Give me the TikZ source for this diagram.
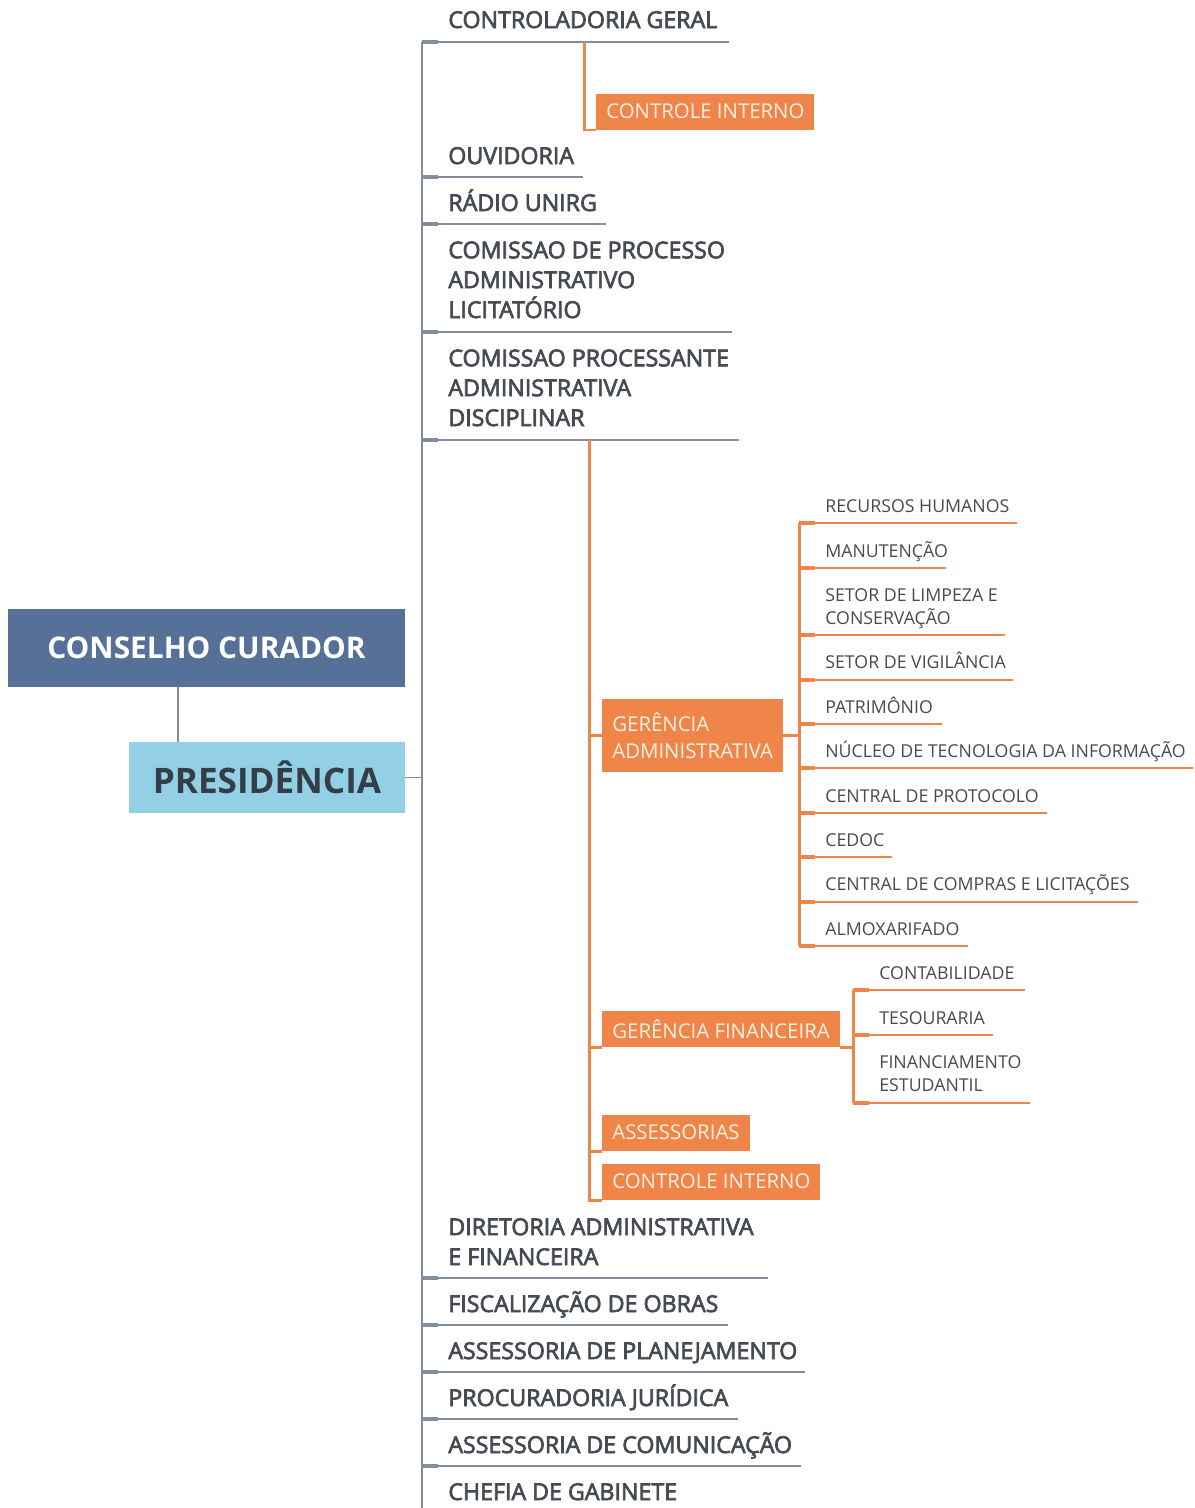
\documentclass[tikz,border=0pt]{standalone}
\usepackage{fontspec}
\setmainfont{Open Sans}
\newfontfamily\semifont{Open Sans}[FakeBold=3]
\newfontfamily\boldfont{Open Sans Bold}
\usetikzlibrary{positioning}
\definecolor{linha}{RGB}{131,141,160}
\definecolor{cinza}{RGB}{70,74,82}
\definecolor{laranja}{RGB}{239,133,72}
\definecolor{creme}{RGB}{255,241,228}
\definecolor{azulescuro}{RGB}{87,112,152}
\definecolor{azulclaro}{RGB}{147,208,229}
\definecolor{textopres}{RGB}{52,62,72}

\tikzset{
  gline/.style={linha, line width=1.1pt},
  gstub/.style={linha, line width=2.2pt},
  oline/.style={laranja, line width=1.7pt},
  othin/.style={laranja, line width=1.1pt},
  ostub/.style={laranja, line width=2.4pt},
  gtext/.style={anchor=base west, inner sep=0, align=left, text=cinza,
    font=\semifont\fontsize{13.2}{17}\selectfont},
  otext/.style={anchor=base west, inner sep=0, align=left, text=cinza,
    font=\fontsize{10.1}{13}\selectfont},
  obox/.style={fill=laranja, text=creme, align=left, inner xsep=0.2cm,
    minimum height=0.72cm, font=\fontsize{11.6}{15.3}\selectfont},
}

\begin{document}
\begin{tikzpicture}[x=0.02cm, y=-0.02cm]
\useasboundingbox (0,0) rectangle (1195,1508);

% caixas da esquerda
\node[fill=azulescuro, text=white, minimum width=7.94cm, minimum height=1.56cm,
  font=\boldfont\fontsize{17}{20}\selectfont] (conselho) at (206.5,648) {CONSELHO CURADOR};
\node[fill=azulclaro, text=textopres, minimum width=5.52cm, minimum height=1.42cm,
  font=\boldfont\fontsize{20}{24}\selectfont] (presid) at (267,777.5) {PRESIDÊNCIA};
\draw[gline] (conselho.south -| 178,0) -- (presid.north -| 178,0);

% tronco principal
\coordinate (tronco-top) at (422,42);
\coordinate (tronco-bot) at (422,1508);
\draw[gline] (tronco-top) -- (tronco-bot);
\draw[gline] (presid.east) -- (presid.east -| tronco-top);

% (\by = linha de base da ultima linha do texto)
\foreach \nome/\by/\ly/\ex/\txt in {
    cg/28/42/729/{CONTROLADORIA GERAL},
    ouv/164/177/583/{OUVIDORIA},
    rad/211/224/606/{RÁDIO UNIRG},
    cpa/318/332/732/{COMISSAO DE PROCESSO\\ADMINISTRATIVO\\LICITATÓRIO},
    cpd/426/440/739/{COMISSAO PROCESSANTE\\ADMINISTRATIVA\\DISCIPLINAR},
    dir/1265/1278/768/{DIRETORIA ADMINISTRATIVA\\E FINANCEIRA},
    fis/1312/1325/728/{FISCALIZAÇÃO DE OBRAS},
    pla/1359/1372/805/{ASSESSORIA DE PLANEJAMENTO},
    pro/1406/1419/738/{PROCURADORIA JURÍDICA},
    com/1453/1466/801/{ASSESSORIA DE COMUNICAÇÃO},
    che/1500/1513/676/{CHEFIA DE GABINETE}}{
  \node[gtext] (\nome) at (448,\by) {\txt};
  \coordinate (\nome-a) at (422,\ly);
  \coordinate (\nome-b) at (\ex,\ly);
  \draw[gline] (\nome-a) -- (\nome-b);
  \draw[gstub] (\nome-a) -- ++(16,0);
}

% controle interno da controladoria
\coordinate (cg-o) at (584,42);
\node[obox, anchor=south west] (ci1) at (596,130) {CONTROLE INTERNO};
\draw[oline] (cg-o) |- (ci1.south west);

% ramo laranja
\coordinate (cpd-o) at (589,440);
\node[obox, anchor=west, minimum height=1.46cm] (ga) at (602,735.5) {GERÊNCIA\\ADMINISTRATIVA};
\node[obox, anchor=south west] (gf) at (602,1047) {GERÊNCIA FINANCEIRA};
\node[obox, anchor=south west] (ass) at (602,1151) {ASSESSORIAS};
\node[obox, anchor=south west] (ci2) at (602,1200) {CONTROLE INTERNO};
\draw[oline] (cpd-o) |- (ci2.south west);
\draw[oline] (cpd-o |- ga.west) -- (ga.west);
\draw[oline] (cpd-o |- gf.south west) -- (gf.south west);
\draw[oline] (cpd-o |- ass.south west) -- (ass.south west);

% setores da gerencia administrativa
\coordinate (ga-top) at (799,523);
\coordinate (ga-bot) at (799,946);
\draw[oline] (ga-top) -- (ga-bot);
\draw[oline] (ga.east) -- (ga.east -| ga-top);
\foreach \nome/\by/\ly/\ex/\txt in {
    rh/512.5/523/1017/{RECURSOS HUMANOS},
    man/557.5/568/946/{MANUTENÇÃO},
    lim/624.5/635/1005/{SETOR DE LIMPEZA E\\CONSERVAÇÃO},
    vig/668.5/680/1013/{SETOR DE VIGILÂNCIA},
    pat/713.5/724/942/{PATRIMÔNIO},
    nti/757.5/768/1193/{NÚCLEO DE TECNOLOGIA DA INFORMAÇÃO},
    prot/802.5/813/1047/{CENTRAL DE PROTOCOLO},
    cedoc/846.5/857/892/{CEDOC},
    comp/890.5/902/1138/{CENTRAL DE COMPRAS E LICITAÇÕES},
    alm/935.5/946/968/{ALMOXARIFADO}}{
  \node[otext] (\nome) at (825,\by) {\txt};
  \coordinate (\nome-b) at (\ex,\ly);
  \draw[othin] (ga-top |- \nome-b) -- (\nome-b);
  \draw[ostub] (ga-top |- \nome-b) -- ++(16,0);
}

% setores da gerencia financeira
\coordinate (gf-top) at (853,990);
\coordinate (gf-bot) at (853,1103);
\draw[oline] (gf-top) -- (gf-bot);
\draw[oline] (gf.south east) -- (gf.south east -| gf-top);
\foreach \nome/\by/\ly/\ex/\txt in {
    cont/979.5/990/1025/{CONTABILIDADE},
    tes/1024.5/1035/993/{TESOURARIA},
    fies/1091.5/1103/1030/{FINANCIAMENTO\\ESTUDANTIL}}{
  \node[otext] (\nome) at (879,\by) {\txt};
  \coordinate (\nome-b) at (\ex,\ly);
  \draw[othin] (gf-top |- \nome-b) -- (\nome-b);
  \draw[ostub] (gf-top |- \nome-b) -- ++(16,0);
}

\end{tikzpicture}
\end{document}
